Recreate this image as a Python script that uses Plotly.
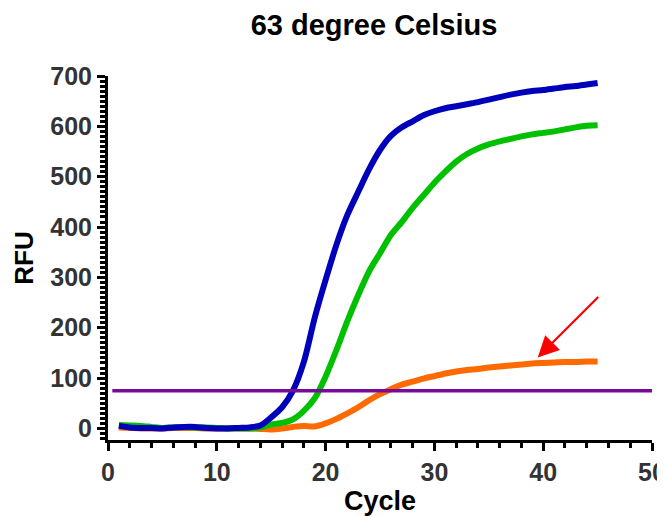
import plotly.graph_objects as go

cycles = list(range(1, 46))

blue_rfu = [5, 2, 1, 1, 0, 2, 3, 3, 1, 0, 0, 1, 2, 6, 22, 42, 75, 132, 220, 295,
            365, 424, 470, 515, 553, 581, 598, 610, 622, 630, 636, 640, 644, 648, 653,
            658, 663, 667, 670, 672, 675, 678, 680, 683, 686]

green_rfu = [7, 6, 5, 3, 1, 2, 3, 2, 2, 1, 0, 0, 0, 2, 8, 11, 18, 35, 60, 103,
             156, 213, 265, 312, 348, 384, 410, 438, 463, 488, 510, 530, 545, 556, 564,
             570, 575, 580, 584, 587, 590, 594, 598, 601, 602]

orange_rfu = [2, 1, 0, 0, 0, 1, 1, 1, 0, 0, 0, 0, 0, -1, -2, 0, 3, 5, 4, 10,
              19, 30, 42, 56, 68, 78, 87, 93, 99, 104, 109, 113, 116, 118, 121,
              123, 125, 127, 129, 130, 131, 132, 132, 133, 133]

threshold_x = [0.4, 50]
threshold_rfu = [75, 75]

arrow_tail = (45.2, 264)
arrow_head = (39.5, 141)

FONT = "Liberation Sans"
W, H = 657, 508  # page body has an 8px margin

fig = go.Figure()
for ys, col in [(orange_rfu, "#FF6A00"), (green_rfu, "#00C000"), (blue_rfu, "#0000BB")]:
    fig.add_trace(go.Scatter(x=cycles, y=ys, mode="lines",
                             line=dict(color=col, width=6, shape="spline", smoothing=0.8),
                             showlegend=False))
fig.add_trace(go.Scatter(x=threshold_x, y=threshold_rfu, mode="lines",
                         line=dict(color="#780A9A", width=3.5), showlegend=False))

fig.add_annotation(x=arrow_head[0], y=arrow_head[1], ax=arrow_tail[0], ay=arrow_tail[1],
                   xref="x", yref="y", axref="x", ayref="y", text="",
                   showarrow=True, arrowhead=2, arrowsize=1.9, arrowwidth=2.2,
                   arrowcolor="#FF0000")

fig.update_layout(
    width=W, height=H,
    paper_bgcolor="white", plot_bgcolor="white",
    margin=dict(l=100, r=13, t=68, b=76),
    title=dict(text="63 degree Celsius", x=366 / W, xref="container", xanchor="center",
               y=1 - 17 / H, yref="container", yanchor="middle",
               font=dict(family=FONT, size=29, color="black", weight=700)),
    font=dict(family=FONT),
)

fig.update_xaxes(
    range=[0, 50], tickvals=[0, 10, 20, 30, 40, 50], automargin=False,
    ticklabeloverflow="allow",
    showline=True, linecolor="black", linewidth=3, mirror=False,
    showgrid=False, zeroline=False,
    ticks="outside", ticklen=8, tickwidth=3, tickcolor="black",
    tickfont=dict(family=FONT, size=25, color="#333333", weight=700),
    minor=dict(dtick=2, ticks="outside", ticklen=5, tickwidth=2.5, tickcolor="black", showgrid=False),
    title=dict(text="Cycle", font=dict(family=FONT, size=27, color="black", weight=700), standoff=8),
)
fig.update_yaxes(
    range=[-23, 700], tickvals=[0, 100, 200, 300, 400, 500, 600, 700], automargin=False,
    showline=True, linecolor="black", linewidth=3, mirror=False,
    showgrid=False, zeroline=False,
    ticks="outside", ticklen=8, tickwidth=3, tickcolor="black",
    tickfont=dict(family=FONT, size=25, color="#333333", weight=700),
    minor=dict(dtick=10, tick0=0, ticks="outside", ticklen=5, tickwidth=2.5, tickcolor="black", showgrid=False),
    title=dict(text="RFU", font=dict(family=FONT, size=26, color="black", weight=700), standoff=10),
)

fig.write_html("out.html")
